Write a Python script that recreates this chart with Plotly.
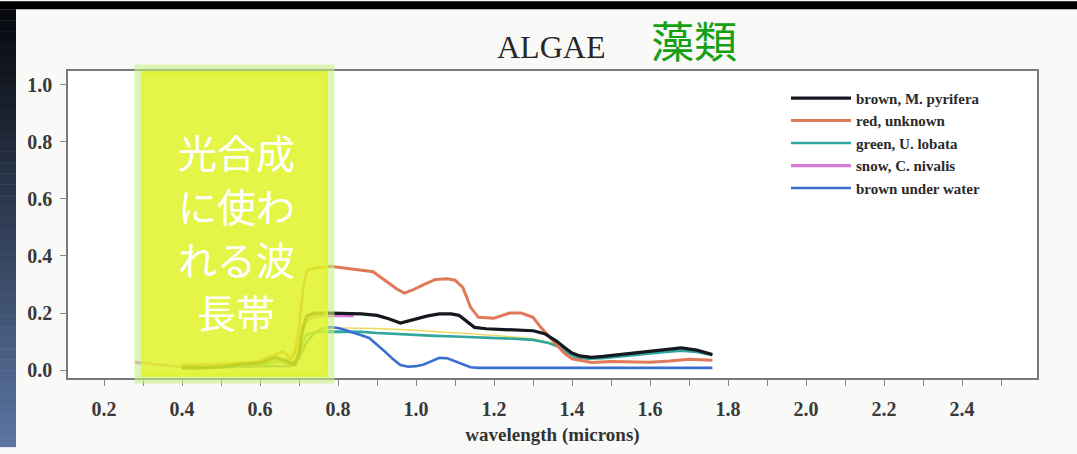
import plotly.graph_objects as go

# ---------------- data ----------------
brown_x = [0.40, 0.45, 0.50, 0.55, 0.60, 0.64, 0.67, 0.69, 0.70, 0.71, 0.72, 0.74, 0.78, 0.82, 0.86,
           0.90, 0.93, 0.96, 0.98, 1.00, 1.03, 1.06, 1.09, 1.11, 1.13, 1.15, 1.18, 1.22, 1.26, 1.30,
           1.33, 1.36, 1.38, 1.40, 1.42, 1.45, 1.48, 1.52, 1.56, 1.60, 1.64, 1.68, 1.72, 1.76]
brown_y = [0.010, 0.008, 0.012, 0.020, 0.025, 0.045, 0.030, 0.020, 0.060, 0.150, 0.190, 0.200, 0.200, 0.199, 0.197,
           0.192, 0.180, 0.165, 0.172, 0.180, 0.190, 0.197, 0.197, 0.192, 0.170, 0.150, 0.145, 0.142, 0.141, 0.138,
           0.128, 0.102, 0.080, 0.060, 0.050, 0.045, 0.048, 0.054, 0.060, 0.066, 0.072, 0.078, 0.070, 0.055]

red_x = [0.40, 0.45, 0.50, 0.55, 0.60, 0.63, 0.66, 0.68, 0.69, 0.70, 0.71, 0.72, 0.74, 0.78, 0.82,
         0.86, 0.89, 0.92, 0.95, 0.97, 0.99, 1.02, 1.05, 1.08, 1.10, 1.12, 1.14, 1.16, 1.20, 1.24,
         1.27, 1.30, 1.32, 1.34, 1.36, 1.38, 1.40, 1.45, 1.50, 1.55, 1.60, 1.65, 1.70, 1.76]
red_y = [0.020, 0.015, 0.020, 0.025, 0.030, 0.050, 0.065, 0.040, 0.060, 0.150, 0.280, 0.350, 0.357, 0.364, 0.358,
         0.350, 0.345, 0.315, 0.285, 0.270, 0.280, 0.300, 0.318, 0.320, 0.315, 0.290, 0.220, 0.185, 0.182, 0.200,
         0.200, 0.185, 0.150, 0.120, 0.090, 0.060, 0.040, 0.027, 0.030, 0.030, 0.028, 0.032, 0.038, 0.035]

green_x = [0.40, 0.45, 0.50, 0.55, 0.60, 0.65, 0.68, 0.70, 0.71, 0.72, 0.74, 0.78, 0.82, 0.86, 0.90,
           0.95, 1.00, 1.05, 1.10, 1.15, 1.20, 1.25, 1.30, 1.34, 1.37, 1.39, 1.41, 1.44, 1.48, 1.52,
           1.56, 1.60, 1.64, 1.68, 1.72, 1.76]
green_y = [0.005, 0.005, 0.010, 0.015, 0.020, 0.030, 0.020, 0.050, 0.100, 0.125, 0.132, 0.135, 0.135, 0.134, 0.130,
           0.126, 0.123, 0.120, 0.118, 0.116, 0.113, 0.110, 0.106, 0.095, 0.080, 0.060, 0.045, 0.040, 0.042, 0.048,
           0.053, 0.058, 0.064, 0.068, 0.064, 0.052]

green2_x = [0.72, 0.75, 0.80, 0.90, 1.00, 1.10, 1.20, 1.30, 1.36]
green2_y = [0.125, 0.140, 0.148, 0.146, 0.140, 0.132, 0.122, 0.110, 0.092]

snow_x = [0.28, 0.30, 0.35, 0.40, 0.45, 0.50, 0.55, 0.60, 0.65, 0.68, 0.70, 0.72, 0.74, 0.78, 0.82, 0.84]
snow_y = [0.027, 0.024, 0.018, 0.012, 0.020, 0.018, 0.020, 0.025, 0.035, 0.040, 0.100, 0.175, 0.188, 0.192, 0.191, 0.190]

water_x = [0.40, 0.50, 0.60, 0.68, 0.70, 0.72, 0.74, 0.76, 0.78, 0.80, 0.82, 0.84, 0.86, 0.88, 0.90,
           0.92, 0.94, 0.96, 0.98, 1.00, 1.02, 1.04, 1.06, 1.08, 1.10, 1.12, 1.14, 1.16, 1.20, 1.30,
           1.40, 1.50, 1.60, 1.70, 1.76]
water_y = [0.008, 0.010, 0.012, 0.015, 0.040, 0.100, 0.130, 0.145, 0.151, 0.148, 0.140, 0.130, 0.122, 0.113, 0.090,
           0.065, 0.040, 0.018, 0.012, 0.014, 0.020, 0.032, 0.043, 0.042, 0.032, 0.020, 0.010, 0.008, 0.008, 0.008,
           0.008, 0.008, 0.008, 0.008, 0.008]

series_names = ["brown, M. pyrifera", "red, unknown", "green, U. lobata", "snow, C. nivalis", "brown under water"]

x_ticks = [0.2, 0.4, 0.6, 0.8, 1.0, 1.2, 1.4, 1.6, 1.8, 2.0, 2.2, 2.4]
y_ticks = [0.0, 0.2, 0.4, 0.6, 0.8, 1.0]

band_lines = ["光合成", "に使わ", "れる波", "長帯"]
band_line_y = [153, 208, 262, 316]   # pixel rows of the overlay text lines

# ---------------- layout geometry ----------------
W, H = 1077, 454
L, R, T, B = 68, 40, 71, 70
PW, PH = W - L - R, H - T - B


def px(xp):
    return (xp - L) / PW


def py(yp):
    return (H - B - yp) / PH


fig = go.Figure()

fig.add_trace(go.Scatter(x=green2_x, y=green2_y, mode="lines", showlegend=False,
                         line=dict(color="#ecd85a", width=1.4), hoverinfo="skip"))
fig.add_trace(go.Scatter(x=snow_x, y=snow_y, name=series_names[3], mode="lines",
                         line=dict(color="#d77ad6", width=3.2), legendrank=4))
fig.add_trace(go.Scatter(x=green_x, y=green_y, name=series_names[2], mode="lines",
                         line=dict(color="#2fa79c", width=2.6), legendrank=3))
fig.add_trace(go.Scatter(x=water_x, y=water_y, name=series_names[4], mode="lines",
                         line=dict(color="#3a6fd0", width=2.6), legendrank=5))
fig.add_trace(go.Scatter(x=red_x, y=red_y, name=series_names[1], mode="lines",
                         line=dict(color="#e0795a", width=3), legendrank=2))
fig.add_trace(go.Scatter(x=brown_x, y=brown_y, name=series_names[0], mode="lines",
                         line=dict(color="#15181e", width=3.2), legendrank=1))

shapes = []
# top black band
shapes.append(dict(type="rect", xref="paper", yref="paper", x0=px(0), x1=px(W), y0=py(8), y1=py(0),
                   fillcolor="#000000", line=dict(width=0), layer="above"))
# left gradient strip
n = 40
top_c = (6, 8, 12)
bot_c = (92, 118, 162)
for i in range(n):
    y0p = 8 + (H - 8) * i / n
    y1p = 8 + (H - 8) * (i + 1) / n
    t = (i + 0.5) / n
    c = tuple(int(round(top_c[k] + (bot_c[k] - top_c[k]) * t)) for k in range(3))
    shapes.append(dict(type="rect", xref="paper", yref="paper", x0=px(0), x1=px(16), y0=py(y1p + 0.5), y1=py(y0p),
                       fillcolor="rgb(%d,%d,%d)" % c, line=dict(width=0), layer="above"))
# highlight band: soft green glow outline, then translucent yellow body
shapes.append(dict(type="rect", xref="paper", yref="paper", x0=px(140), x1=px(329), y0=py(384), y1=py(70),
                   fillcolor="rgba(0,0,0,0)", line=dict(width=11, color="rgba(196,240,130,0.6)"),
                   layer="above"))
shapes.append(dict(type="rect", xref="paper", yref="paper", x0=px(141), x1=px(328), y0=py(383), y1=py(71),
                   fillcolor="rgba(223,243,40,0.85)", line=dict(width=0), layer="above"))

annotations = [
    dict(text="ALGAE", xref="paper", yref="paper", x=px(551), y=py(47), showarrow=False,
         xanchor="center", yanchor="middle",
         font=dict(family="Liberation Serif, Times New Roman, serif", size=32, color="#262626")),
    dict(text="藻類", xref="paper", yref="paper", x=px(694), y=py(38), showarrow=False,
         xanchor="center", yanchor="middle",
         font=dict(family="Noto Sans CJK JP", size=43, color="rgb(22,160,22)")),
]
for txt, yl in zip(band_lines, band_line_y):
    annotations.append(dict(text=txt, xref="paper", yref="paper", x=px(236), y=py(yl), showarrow=False,
                            xanchor="center", yanchor="middle",
                            font=dict(family="Noto Sans CJK JP", size=39, color="#ffffff")))

axis_font = dict(family="Liberation Serif, Times New Roman, serif", size=20, color="#3a3a3a", weight="bold")

fig.update_layout(
    width=W, height=H,
    margin=dict(l=L, r=R, t=T, b=B, pad=0),
    paper_bgcolor="#f9f9f8",
    plot_bgcolor="#ffffff",
    shapes=shapes,
    annotations=annotations,
    showlegend=True,
    legend=dict(x=px(786), y=py(82), xanchor="left", yanchor="top",
                bgcolor="rgba(0,0,0,0)", borderwidth=0,
                font=dict(family="Liberation Serif, Times New Roman, serif", size=15, color="#2a2a2a",
                          weight="bold"),
                itemwidth=60, traceorder="normal", tracegroupgap=0),
    xaxis=dict(range=[0.2 + (L - 104) / 390, 0.2 + (W - R - 104) / 390],
               tickvals=x_ticks, tickformat=".1f", ticks="outside", ticklen=6, tickcolor="#888888",
               tickwidth=1.2,
               minor=dict(dtick=0.1, ticks="outside", ticklen=6, tickcolor="#888888", tickwidth=1.2),
               showline=True, linecolor="#7a7a7a", linewidth=1.6, mirror=True,
               showgrid=False, zeroline=False, tickfont=axis_font, ticklabelstandoff=6,
               title=dict(text="wavelength (microns)", standoff=9,
                          font=dict(family="Liberation Serif, Times New Roman, serif", size=19,
                                    color="#333333", weight="bold"))),
    yaxis=dict(range=[-8 / 291, 1 + 14 / 291],
               tickvals=y_ticks, tickformat=".1f", ticks="outside", ticklen=6, tickcolor="#888888",
               tickwidth=1.2,
               showline=True, linecolor="#7a7a7a", linewidth=1.6, mirror=True,
               showgrid=False, zeroline=False, tickfont=axis_font, ticklabelstandoff=4),
)

fig.write_html("out.html")
